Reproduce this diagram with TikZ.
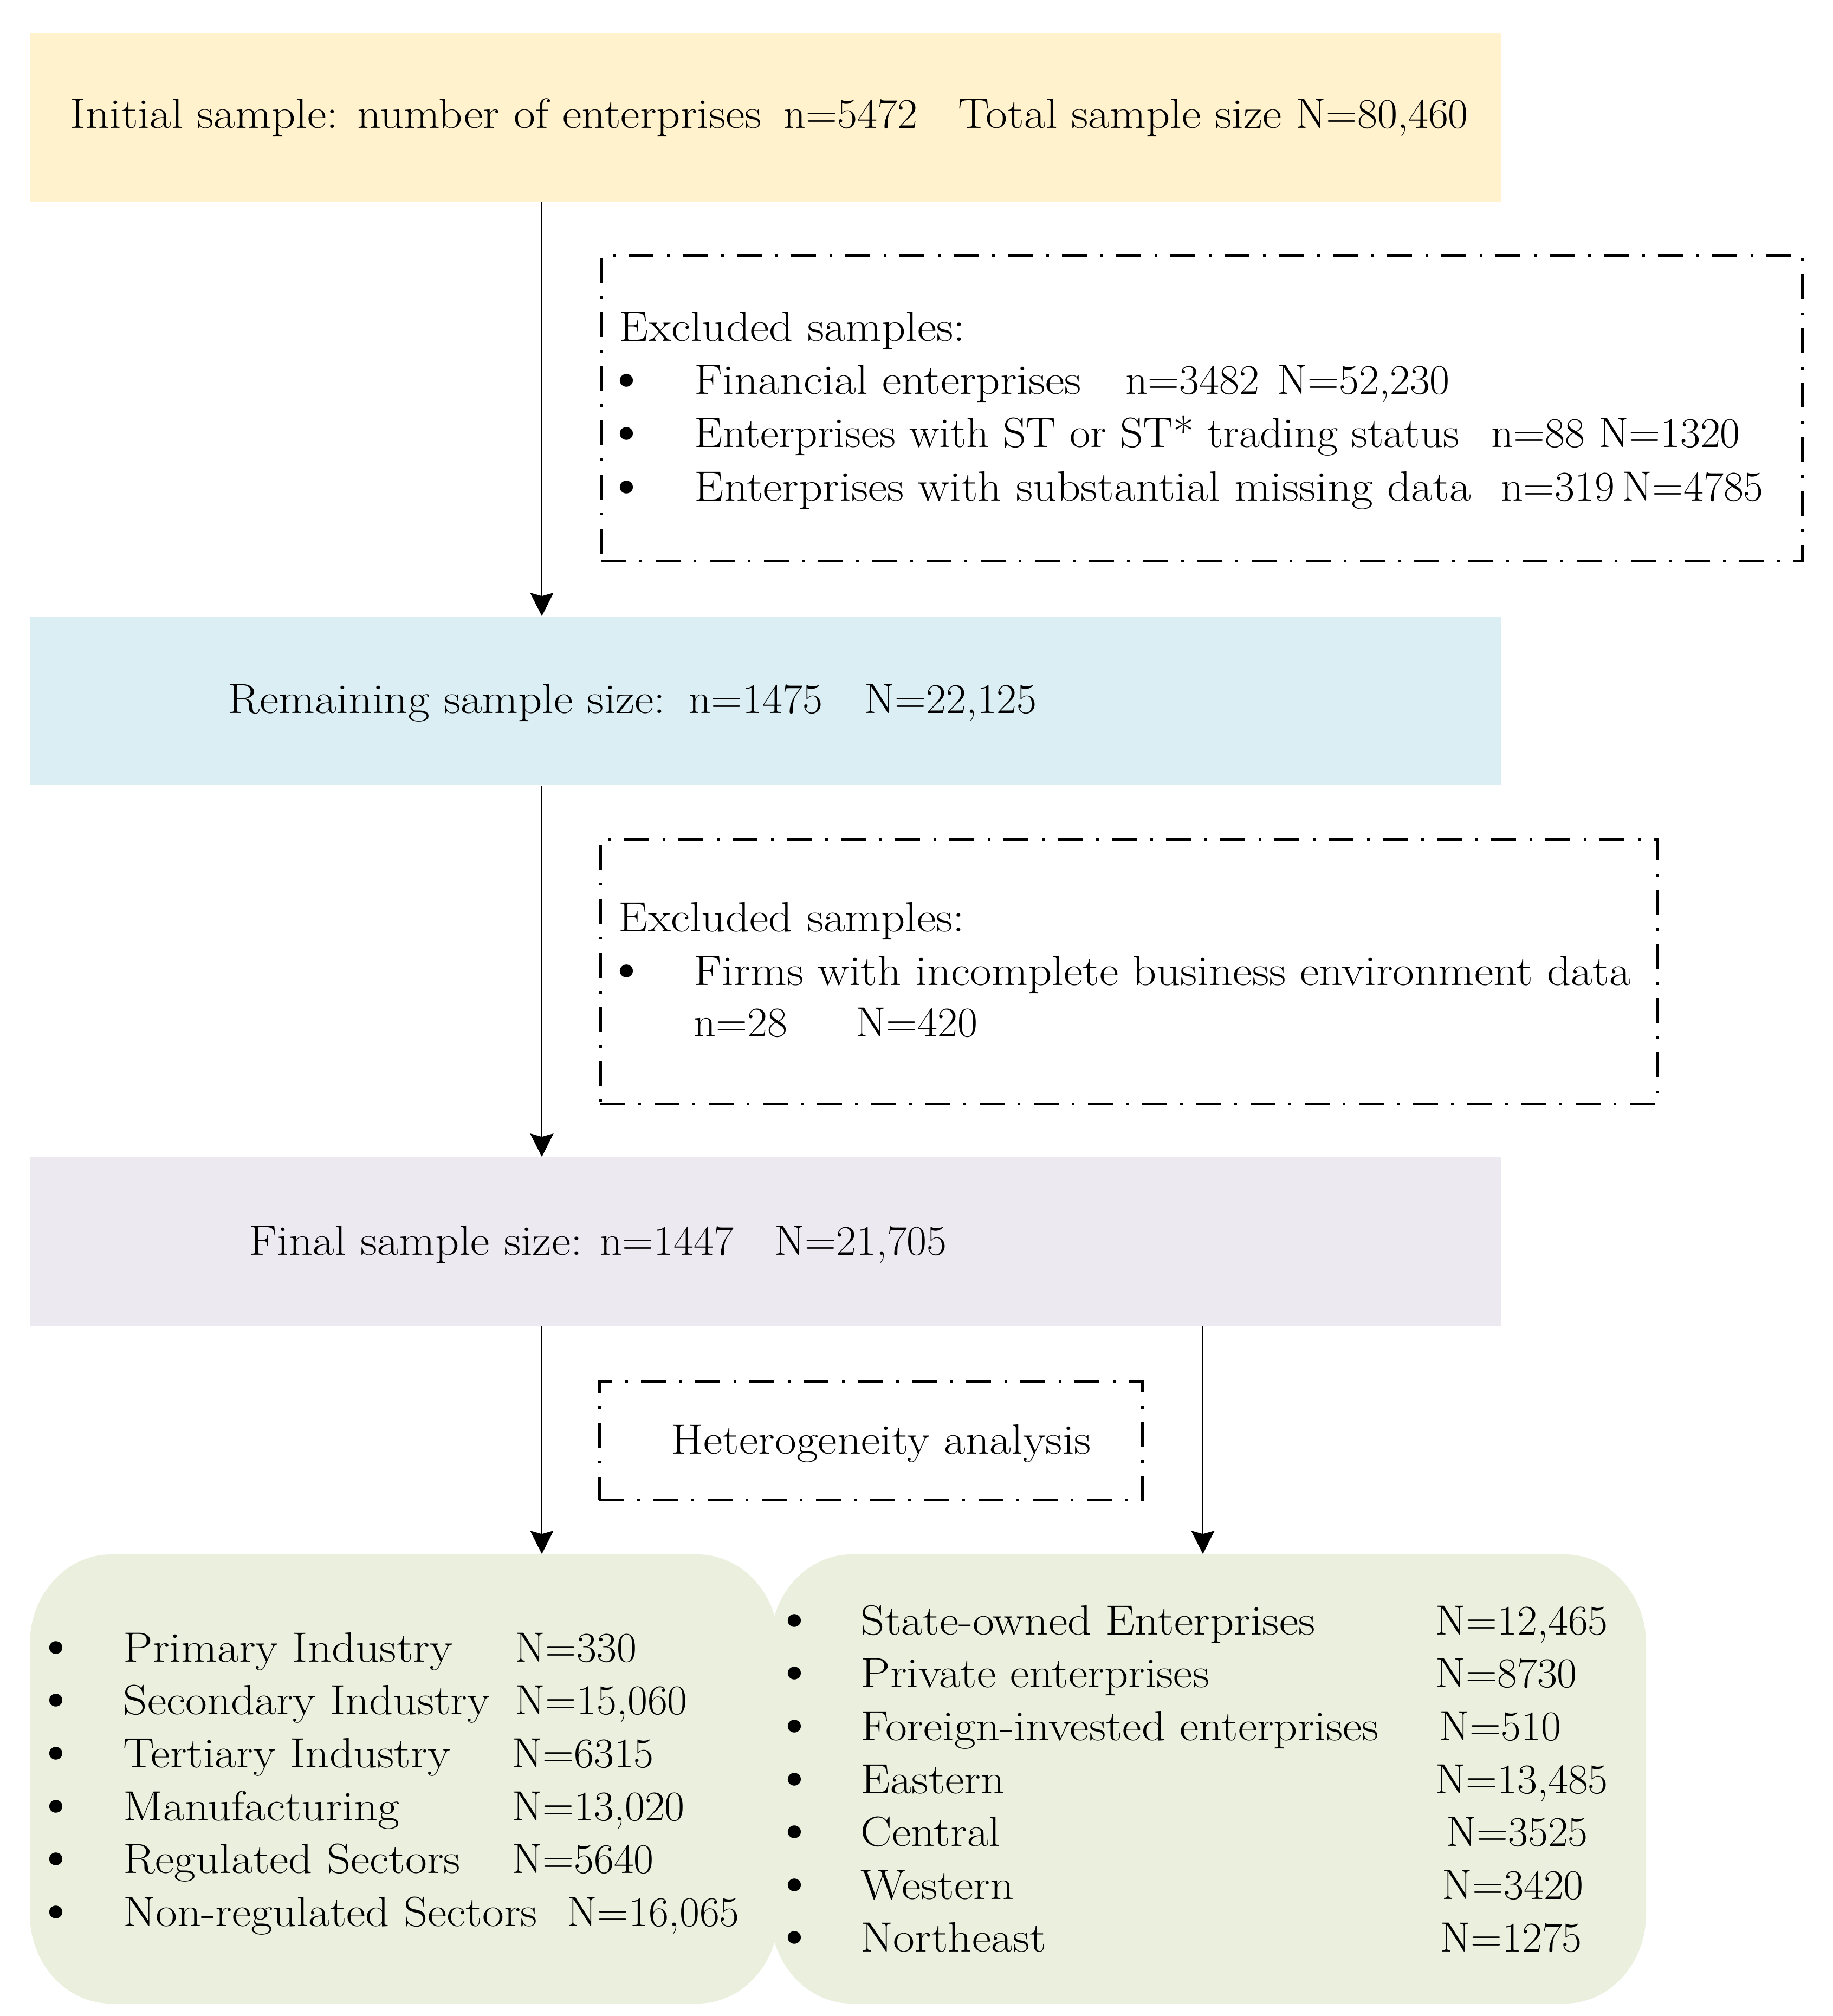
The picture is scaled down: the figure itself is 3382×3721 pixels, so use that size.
\documentclass[tikz,border=0pt]{standalone}
\usepackage{fontspec}
\usepackage{graphicx}
\setmainfont{Latin Modern Roman}[FakeStretch=1.11]
\newfontfamily\nf{Latin Modern Roman}[FakeStretch=1.03]
\usetikzlibrary{arrows.meta}
\definecolor{cyel}{HTML}{FFF2CC}
\definecolor{cblu}{HTML}{DAEEF3}
\definecolor{clav}{HTML}{ECE9F1}
\definecolor{cgrn}{HTML}{EBF0DE}
\newcommand{\bul}[1]{\makebox[#1][l]{\hspace*{-5.5pt}\raisebox{-0.6pt}{\scalebox{1.25}[1.35]{\textbullet}}}}
\begin{document}
\begin{tikzpicture}[x=0.25pt,y=-0.25pt,
  box/.style={inner sep=0,minimum width=678.75pt,minimum height=77.75pt},
  dbox/.style={draw,line width=1.25pt,dash pattern=on 11.5pt off 6pt on 1.2pt off 6.3pt,inner sep=0},
  txt/.style={anchor=base west,inner sep=0,font=\fontsize{19.5pt}{24.5pt}\selectfont},
  arr/.style={line width=0.5pt,-{Stealth[length=10.75pt,width=10.75pt,inset=1.5pt]}}]
\path[use as bounding box] (0,0) rectangle (3382,3721);
\coordinate (ax) at (1000,0);
\coordinate (bx) at (2220,0);

% main boxes
\node[box,fill=cyel,minimum height=78pt] (b1) at (1412.5,216) {};
\node[box,fill=cblu] (b2) at (1412.5,1293.5) {};
\node[box,fill=clav] (b3) at (1412.5,2291.5) {};

\node[txt] (t1) at (129,237) {\makebox[329.25pt][l]{Initial sample: number of enterprises}\makebox[80.5pt][l]{\nf n=5472}Total sample size {\nf N=80,460}};
\node[txt] (t2) at (420,1316) {\makebox[212.75pt][l]{Remaining sample size:}\makebox[81pt][l]{\nf n=1475}{\nf N=22,125}};
\node[txt] (t3) at (459,2316) {\makebox[162pt][l]{Final sample size:}\makebox[80.5pt][l]{\nf n=1447}{\nf N=21,705}};

% dashed boxes
\node[dbox,minimum width=554pt,minimum height=141pt] (d1) at (2218,754) {};
\node[txt] (d1h) at (1142,630) {Excluded samples:};
\node[txt] (d1a) at (1139,728) {\bul{35.5pt}\makebox[199pt][l]{Financial enterprises}\makebox[70pt][l]{\nf n=3482}{\nf N=52,230}};
\node[txt] (d1b) at (1139,826) {\bul{35.5pt}\makebox[367.75pt][l]{\scalebox{0.96}[1]{Enterprises with ST or ST* trading status}}\makebox[49.5pt][l]{\nf n=88}{\nf N=1320}};
\node[txt] (d1c) at (1139,925) {\bul{35.5pt}\makebox[372.25pt][l]{Enterprises with substantial missing data}\makebox[55.75pt][l]{\nf n=319}{\nf N=4785}};

\node[dbox,minimum width=487.75pt,minimum height=122pt] (d2) at (2083.5,1793) {};
\node[txt] (d2h) at (1141,1719) {Excluded samples:};
\node[txt] (d2a) at (1139,1818) {\bul{35.25pt}Firms with incomplete business environment data};
\node[txt] (d2b) at (1280,1913) {\makebox[74.75pt][l]{\nf n=28}{\nf N=420}};

\node[dbox,minimum width=250.5pt,minimum height=54.75pt] (d3) at (1607,2658.5) {};
\node[txt] (d3t) at (1238,2683) {Heterogeneity analysis};

% bottom boxes
\node[inner sep=0,minimum width=345.5pt,minimum height=207.25pt] (bl) at (746,3283.5) {};
\node[inner sep=0,minimum width=404pt,minimum height=207.25pt] (br) at (2230,3283.5) {};
\fill[cgrn] (55,3034) .. controls (55,2943) and (122,2869) .. (205,2869) -- (1287,2869) .. controls (1370,2869) and (1437,2943) .. (1437,3034) -- (1437,3533) .. controls (1437,3624) and (1370,3698) .. (1287,3698) -- (205,3698) .. controls (122,3698) and (55,3624) .. (55,3533) -- cycle;
\fill[cgrn] (1422,3034) .. controls (1422,2943) and (1489,2869) .. (1572,2869) -- (2888,2869) .. controls (2971,2869) and (3038,2943) .. (3038,3034) -- (3038,3533) .. controls (3038,3624) and (2971,3698) .. (2888,3698) -- (1572,3698) .. controls (1489,3698) and (1422,3624) .. (1422,3533) -- cycle;

\node[txt] (l1) at (86,3067) {\bul{35.25pt}\makebox[180.75pt][l]{Primary Industry}{\nf N=330}};
\node[txt] (l2) at (86,3164) {\bul{35.25pt}\makebox[180.75pt][l]{Secondary Industry}{\nf N=15,060}};
\node[txt] (l3) at (86,3262) {\bul{35.25pt}\makebox[179.5pt][l]{Tertiary Industry}{\nf N=6315}};
\node[txt] (l4) at (86,3360) {\bul{35.25pt}\makebox[179.5pt][l]{Manufacturing}{\nf N=13,020}};
\node[txt] (l5) at (86,3457) {\bul{35.25pt}\makebox[179.5pt][l]{Regulated Sectors}{\nf N=5640}};
\node[txt] (l6) at (86,3555) {\bul{35.25pt}\makebox[204.75pt][l]{Non-regulated Sectors}{\nf N=16,065}};

\node[txt] (r1) at (1449,3017) {\bul{34.75pt}\makebox[265.25pt][l]{State-owned Enterprises}{\nf N=12,465}};
\node[txt] (r2) at (1449,3114) {\bul{34.75pt}\makebox[265.25pt][l]{Private enterprises}{\nf N=8730}};
\node[txt] (r3) at (1449,3212) {\bul{34.75pt}\makebox[267pt][l]{Foreign-invested enterprises}{\nf N=510}};
\node[txt] (r4) at (1449,3310) {\bul{34.75pt}\makebox[265.25pt][l]{Eastern}{\nf N=13,485}};
\node[txt] (r5) at (1449,3407) {\bul{34.75pt}\makebox[270.25pt][l]{Central}{\nf N=3525}};
\node[txt] (r6) at (1449,3505) {\bul{34.75pt}\makebox[268.25pt][l]{Western}{\nf N=3420}};
\node[txt] (r7) at (1449,3602) {\bul{34.75pt}\makebox[267.5pt][l]{Northeast}{\nf N=1275}};

% connectors
\draw[arr] (ax |- b1.south) -- (ax |- b2.north);
\draw[arr] (ax |- b2.south) -- (ax |- b3.north);
\draw[arr] (ax |- b3.south) -- (ax |- bl.north);
\draw[arr] (bx |- b3.south) -- (bx |- br.north);
\end{tikzpicture}
\end{document}
